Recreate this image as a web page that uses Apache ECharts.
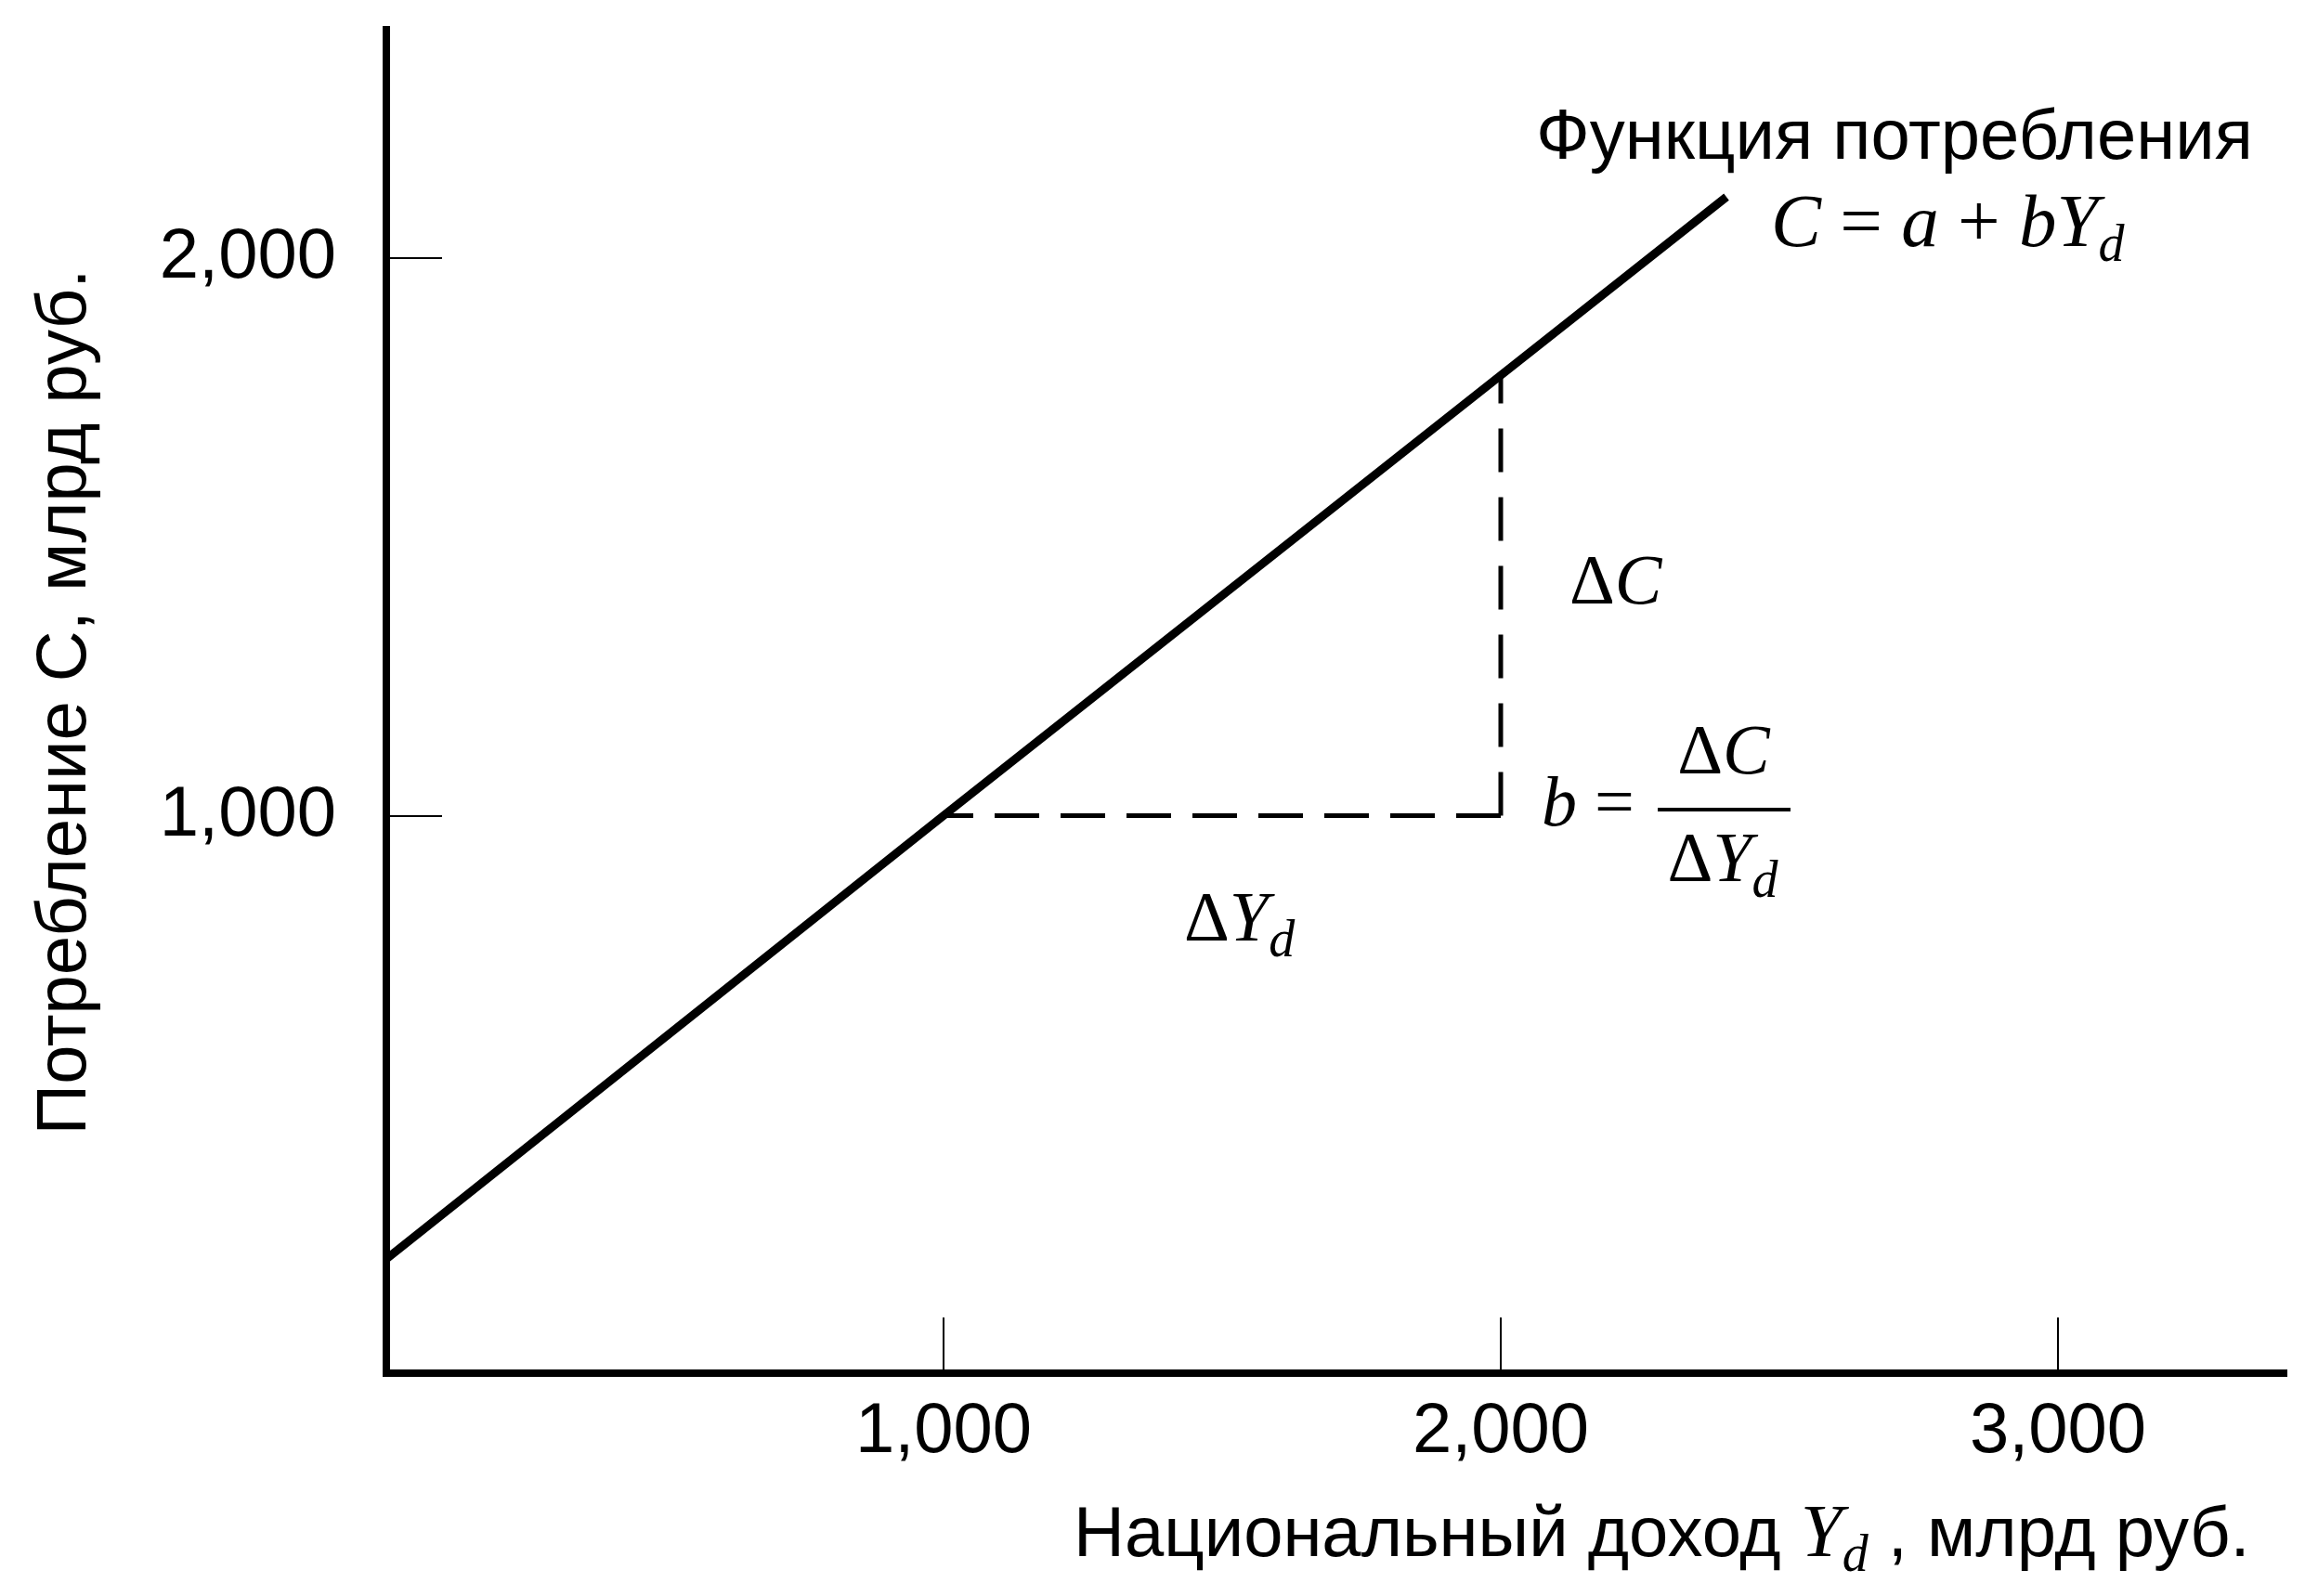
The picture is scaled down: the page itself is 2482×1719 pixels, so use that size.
<!DOCTYPE html>
<html>
<head>
<meta charset="utf-8">
<style>
  html, body { margin: 0; padding: 0; background: #fff; }
  #chart { width: 2482px; height: 1719px; }
</style>
<script src="https://cdn.jsdelivr.net/npm/echarts@6/dist/echarts.min.js"></script>
</head>
<body>
<div id="chart"></div>
<script>
// ---- data ----
const incomeYd = [0, 1000, 2000, 2405];          // disposable income, bn rub
const consumptionC = [205, 1000, 1790, 2110];    // consumption, bn rub
const deltaYdSegment = [2000, 1000];             // ΔYd run (x values), drawn from the corner
const deltaBaseLevel = 1000;                     // C level of the ΔYd run
const deltaCSegment = [1000, 1790];              // ΔC rise (y values) at Yd = 2000
const deltaCAt = 2000;
const xTicks = [1000, 2000, 3000];
const yTicks = [1000, 2000];
const xMax = 3405;
const yMax = 2410;

const SANS = '"Liberation Sans", Arial, Helvetica, sans-serif';
const SERIF = '"Liberation Serif", "Times New Roman", serif';

function fmt(v) { return String(v).replace(/\B(?=(\d{3})+(?!\d))/g, ','); }

const chart = echarts.init(document.getElementById('chart'), null, { renderer: 'canvas' });

const mathRich = {
  i: { fontFamily: SERIF, fontStyle: 'italic', fontSize: 76, lineHeight: 100, color: '#000' },
  r: { fontFamily: SERIF, fontSize: 76, lineHeight: 100, color: '#000' },
  I: { fontFamily: SERIF, fontStyle: 'italic', fontSize: 81, lineHeight: 100, color: '#000' },
  R: { fontFamily: SERIF, fontSize: 81, lineHeight: 100, color: '#000' },
  s: { fontFamily: SERIF, fontStyle: 'italic', fontSize: 56, lineHeight: 54, color: '#000', verticalAlign: 'bottom' },
  t: { fontFamily: SANS, fontSize: 76, lineHeight: 100, color: '#000' }
};

const option = {
  animation: false,
  backgroundColor: '#ffffff',
  grid: { left: 416, right: 23, top: 32, bottom: 240, outerBoundsMode: 'none' },
  xAxis: {
    type: 'value', min: 0, max: xMax, interval: 1000,
    axisLine: { show: true, onZero: false, lineStyle: { color: '#000', width: 8, cap: 'square' } },
    axisTick: { show: true, inside: true, length: 60, customValues: xTicks, lineStyle: { color: '#000', width: 2 } },
    axisLabel: { show: true, customValues: xTicks, formatter: fmt, margin: 26, fontSize: 76, fontFamily: SANS, color: '#000' },
    splitLine: { show: false }
  },
  yAxis: {
    type: 'value', min: 0, max: yMax, interval: 1000,
    axisLine: { show: true, onZero: false, lineStyle: { color: '#000', width: 8, cap: 'square' } },
    axisTick: { show: true, inside: true, length: 60, customValues: yTicks, lineStyle: { color: '#000', width: 2 } },
    axisLabel: { show: true, customValues: yTicks, formatter: fmt, margin: 54, fontSize: 76, fontFamily: SANS, color: '#000' },
    splitLine: { show: false }
  },
  series: [
    {
      type: 'line', name: 'C = a + bYd',
      data: incomeYd.map((x, i) => [x, consumptionC[i]]),
      symbol: 'none', clip: false,
      lineStyle: { color: '#000', width: 9, cap: 'butt' }
    },
    {
      type: 'line', name: 'ΔYd',
      data: deltaYdSegment.map(x => [x, deltaBaseLevel]),
      symbol: 'none',
      lineStyle: { color: '#000', width: 5, type: [48, 23], cap: 'butt' }
    },
    {
      type: 'line', name: 'ΔC',
      data: deltaCSegment.map(y => [deltaCAt, y]),
      symbol: 'none',
      lineStyle: { color: '#000', width: 5, type: [47, 27], cap: 'butt' }
    }
  ],
  graphic: [
    { type: 'text', x: 1654, y: 150,
      style: { text: 'Функция потребления', font: '76px ' + SANS, fill: '#000', textAlign: 'left', textVerticalAlign: 'middle' } },
    { type: 'text', x: 1907, y: 194,
      style: { text: '{I|C}{R| = }{I|a}{R| + }{I|bY}{s|d}', rich: mathRich, textAlign: 'left', textVerticalAlign: 'top' } },
    { type: 'text', x: 1690, y: 580,
      style: { text: '{r|Δ}{i|C}', rich: mathRich, textAlign: 'left', textVerticalAlign: 'top' } },
    { type: 'text', x: 1660, y: 819,
      style: { text: '{i|b}{r| =}', rich: mathRich, textAlign: 'left', textVerticalAlign: 'top' } },
    { type: 'text', x: 1856, y: 763,
      style: { text: '{r|Δ}{i|C}', rich: mathRich, textAlign: 'center', textVerticalAlign: 'top' } },
    { type: 'line', shape: { x1: 1785, y1: 872, x2: 1928, y2: 872 }, style: { stroke: '#000', lineWidth: 4 } },
    { type: 'text', x: 1855, y: 879,
      style: { text: '{r|Δ}{i|Y}{s|d}', rich: mathRich, textAlign: 'center', textVerticalAlign: 'top' } },
    { type: 'text', x: 1275, y: 943,
      style: { text: '{r|Δ}{i|Y}{s|d}', rich: mathRich, textAlign: 'left', textVerticalAlign: 'top' } },
    { type: 'text', x: 1156, y: 1605,
      style: { text: '{t|Национальный доход }{I|Y}{s|d}{t| , млрд руб.}', rich: mathRich, textAlign: 'left', textVerticalAlign: 'top' } },
    { type: 'text', x: 71, y: 756, rotation: Math.PI / 2,
      style: { text: 'Потребление С, млрд руб.', font: '76px ' + SANS, fill: '#000', textAlign: 'center', textVerticalAlign: 'middle' } }
  ]
};

chart.setOption(option);
</script>
</body>
</html>
